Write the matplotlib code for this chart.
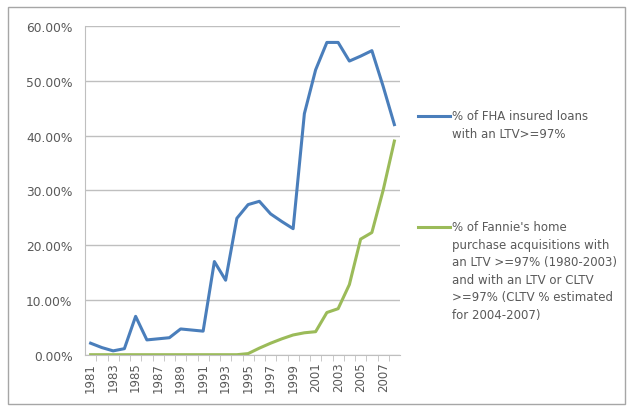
import matplotlib
matplotlib.use("Agg")
import matplotlib.pyplot as plt
from matplotlib.lines import Line2D
from matplotlib.patches import Rectangle
from matplotlib.ticker import FuncFormatter, MultipleLocator

# data (percent)
years = list(range(1981, 2009))
fha_pct = [2.1, 1.3, 0.7, 1.1, 7.0, 2.7, 2.9, 3.1, 4.7, 4.5, 4.3, 17.0,
           13.6, 24.9, 27.4, 28.0, 25.7, 24.3, 23.0, 44.0, 52.0, 57.0,
           57.0, 53.6, 54.5, 55.5, 49.0, 42.0]
fannie_pct = [0.0, 0.0, 0.0, 0.0, 0.0, 0.0, 0.0, 0.0, 0.0, 0.0, 0.0, 0.0,
              0.0, 0.0, 0.2, 1.2, 2.1, 2.9, 3.6, 4.0, 4.2, 7.7,
              8.4, 12.8, 21.1, 22.3, 30.0, 39.0]
labels = ["% of FHA insured loans\nwith an LTV>=97%",
          "% of Fannie's home\npurchase acquisitions with\nan LTV >=97% (1980-2003)\n"
          "and with an LTV or CLTV\n>=97% (CLTV % estimated\nfor 2004-2007)"]
colors = ["#4a7ebb", "#9bbb59"]
text_grey = "#595959"

fig = plt.figure(figsize=(6.28, 4.10), dpi=100)
ax = fig.add_axes([85 / 628, 1 - 355.7 / 410, 315 / 628, (355.7 - 27) / 410])

ax.plot(years, fha_pct, color=colors[0], lw=2.2, solid_joinstyle="round")
ax.plot(years, fannie_pct, color=colors[1], lw=2.2, solid_joinstyle="round")

ax.set_xlim(1980.5, 2008.5)
ax.set_ylim(0, 60)
ax.yaxis.set_major_locator(MultipleLocator(10))
ax.yaxis.set_major_formatter(FuncFormatter(lambda v, p: f"{v:.2f}%"))
ax.set_xticks(years[::2])
ax.set_xticklabels([str(y) for y in years[::2]], rotation=90)
ax.set_xticks([y + 0.5 for y in years[:-1]], minor=True)

ax.grid(axis="y", color="#bfbfbf", lw=1)
ax.set_axisbelow(True)
for s in ["top", "right"]:
    ax.spines[s].set_visible(False)
for s in ["left", "bottom"]:
    ax.spines[s].set_color("#bfbfbf")
ax.tick_params(axis="y", length=0, labelsize=8.8, colors=text_grey, pad=9)
ax.tick_params(axis="x", which="major", length=0, labelsize=8.5, colors=text_grey, pad=5)
ax.tick_params(axis="x", which="minor", length=4, color="#bfbfbf")

# legend drawn by hand to the right of the plot
fig.add_artist(Line2D([418 / 628, 450 / 628], [1 - 117 / 410] * 2, color=colors[0], lw=2.2))
fig.add_artist(Line2D([418 / 628, 450 / 628], [1 - 228 / 410] * 2, color=colors[1], lw=2.2))
fig.text(452 / 628, 1 - 110 / 410, labels[0], fontsize=8.5, color=text_grey,
         va="top", ha="left", linespacing=1.46)
fig.text(452 / 628, 1 - 221 / 410, labels[1], fontsize=8.5, color=text_grey,
         va="top", ha="left", linespacing=1.46)

# chart border
fig.add_artist(Rectangle((8 / 628, 5 / 410), 617 / 628, 397 / 410, transform=fig.transFigure,
                         fill=False, edgecolor="#a6a6a6", lw=1))

fig.savefig("out.png", dpi=100)
